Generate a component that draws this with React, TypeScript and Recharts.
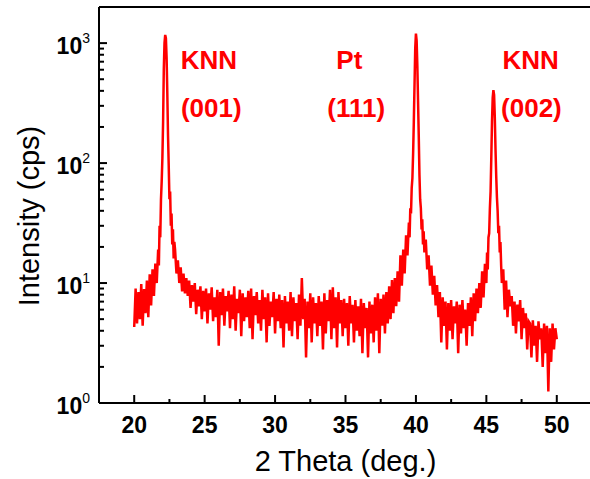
import React from 'react';
import {
    LineChart,
    Line,
    XAxis,
    YAxis,
    ReferenceLine,
    ReferenceDot,
    Label,
} from 'recharts';

// background scan on a 0.1 deg grid, counts
const STEP = 0.1;
const bgAStart = 20.0;
const bgA = [4.3, 9.0, 4.6, 8.4, 5.0, 9.8, 4.4, 8.9, 5.6, 10.5, 5.2, 11.8, 6.5, 13.0, 7.8, 14.5, 10.0];

const bgBStart = 22.9;
const bgB = [
    19, 12, 15.5, 10, 13.5, 8.5, 12, 8.2, 11, 7.8,
    10.5, 6.2, 9.6, 7.0, 10.0, 5.5, 8.8, 6.4, 9.4, 5.0,
    8.6, 5.8, 9.0, 4.6, 8.2, 6.0, 9.2, 4.8, 7.6, 5.2,
    8.8, 3.0, 8.4, 5.4, 9.0, 4.4, 7.8, 5.8, 8.6, 4.2,
    8.0, 5.0, 9.4, 4.0, 7.4, 5.6, 8.8, 3.6, 8.2, 4.8,
    7.6, 5.2, 8.6, 4.2, 9.0, 3.4, 7.8, 5.4, 8.4, 4.6,
    7.2, 4.0, 8.8, 5.0, 7.6, 3.2, 8.2, 4.4, 7.0, 5.2,
    8.4, 3.8, 7.4, 4.8, 8.0, 4.2, 7.2, 2.9, 7.8, 4.6,
    7.0, 4.0, 8.4, 3.6, 7.6, 4.8, 6.8, 3.4, 8.0, 4.4,
    11.0, 5.0, 7.4, 2.4, 7.0, 4.2, 8.2, 3.2, 7.6, 4.6,
    6.8, 3.6, 7.8, 4.4, 7.0, 2.8, 8.2, 3.8, 7.2, 4.8,
    8.8, 3.4, 9.2, 4.2, 7.6, 2.9, 8.4, 4.6, 7.2, 3.6,
    7.4, 4.2, 6.8, 3.0, 7.8, 4.6, 6.6, 3.2, 7.2, 4.0,
    6.4, 3.6, 7.4, 2.6, 6.8, 4.2, 6.2, 2.4, 7.0, 3.8,
    6.6, 3.2, 7.6, 4.0, 8.2, 2.6, 7.4, 4.4, 8.0, 3.8,
    8.4, 4.6, 9.4, 5.0, 10.6, 5.6, 11.0, 6.4, 12.5, 7.0,
    17.0, 9.5, 19.0, 12.0, 25.0, 17.0,
];

const bgCStart = 40.6;
const bgC = [
    18, 23, 13, 17, 9.5, 14, 8.0, 11.5, 6.5, 9.6,
    5.2, 8.4, 3.2, 7.6, 4.4, 7.0, 2.8, 6.8, 4.0, 7.2,
    3.4, 6.4, 4.6, 7.0, 2.6, 6.6, 3.8, 7.2, 4.2, 6.0,
    3.0, 6.8, 4.4, 7.6, 3.6, 8.2, 4.8, 9.0, 5.6, 10.0,
    6.2, 12.5, 7.6, 14.5,
];

const bgDStart = 46.1;
const bgD = [
    10, 13, 6.0, 10.5, 5.2, 8.8, 6.4, 7.8, 4.4, 7.0,
    3.8, 6.6, 4.8, 7.2, 3.4, 6.2, 4.2, 5.6, 2.8, 4.8,
    4.6, 2.4, 4.9, 3.0, 4.4, 2.2, 4.8, 3.4, 4.2, 2.0,
    4.6, 2.6, 4.4, 1.25, 4.2, 2.2, 4.6, 2.8, 4.2, 3.4,
];

// reflections, finer steps
const peak001: [number, number][] = [
    [21.7, 19], [21.75, 14], [21.8, 30], [21.85, 24], [21.9, 50], [21.95, 70],
    [22.0, 110], [22.05, 220], [22.1, 600], [22.15, 1000], [22.2, 1170],
    [22.25, 1100], [22.3, 750], [22.35, 380], [22.4, 170], [22.45, 95],
    [22.5, 50], [22.55, 58], [22.6, 30], [22.65, 38], [22.7, 21], [22.75, 28],
    [22.8, 16], [22.85, 22],
];

const peak111: [number, number][] = [
    [39.5, 32], [39.55, 24], [39.6, 42], [39.65, 38], [39.7, 62], [39.75, 75],
    [39.8, 120], [39.85, 220], [39.9, 450], [39.95, 900], [40.0, 1200],
    [40.05, 1050], [40.1, 650], [40.15, 330], [40.2, 170], [40.25, 80],
    [40.3, 50], [40.35, 42], [40.4, 28], [40.45, 34], [40.5, 21], [40.55, 27],
];

const peak002: [number, number][] = [
    [45.0, 10], [45.05, 18], [45.1, 13], [45.15, 24], [45.2, 26], [45.25, 42],
    [45.3, 58], [45.35, 110], [45.4, 220], [45.45, 350], [45.5, 405],
    [45.55, 370], [45.6, 240], [45.65, 130], [45.7, 78], [45.75, 52],
    [45.8, 40], [45.85, 26], [45.9, 30], [45.95, 18], [46.0, 22], [46.05, 14],
];

const xTicks = [20, 22.5, 25, 27.5, 30, 32.5, 35, 37.5, 40, 42.5, 45, 47.5, 50];
const yTicks = [
    1, 2, 3, 4, 5, 6, 7, 8, 9,
    10, 20, 30, 40, 50, 60, 70, 80, 90,
    100, 200, 300, 400, 500, 600, 700, 800, 900,
    1000,
];

const peakLabels = [
    { angle: 25.3, counts: 730, text: 'KNN' },
    { angle: 25.47, counts: 287, text: '(001)' },
    { angle: 35.27, counts: 730, text: 'Pt' },
    { angle: 35.76, counts: 287, text: '(111)' },
    { angle: 48.14, counts: 730, text: 'KNN' },
    { angle: 48.2, counts: 287, text: '(002)' },
];

const grid = (start: number, counts: number[]) =>
    counts.map((c, i) => ({ angle: +(start + i * STEP).toFixed(2), counts: c }));

const data = [
    ...grid(bgAStart, bgA),
    ...peak001.map(([angle, counts]) => ({ angle, counts })),
    ...grid(bgBStart, bgB),
    ...peak111.map(([angle, counts]) => ({ angle, counts })),
    ...grid(bgCStart, bgC),
    ...peak002.map(([angle, counts]) => ({ angle, counts })),
    ...grid(bgDStart, bgD),
].sort((a, b) => a.angle - b.angle);

const FONT = '"Liberation Sans", Arial, sans-serif';

const XTick = (props: any) => {
    const { x, y, payload } = props;
    const major = payload.value % 5 === 0;
    return (
        <g>
            <line x1={x} x2={x} y1={y} y2={y - (major ? 8 : 4)} stroke="#000" strokeWidth={2} />
            {major && (
                <text x={x} y={y + 30} textAnchor="middle" fontSize={23} fontWeight="bold" fill="#000" fontFamily={FONT}>
                    {payload.value}
                </text>
            )}
        </g>
    );
};

const YTick = (props: any) => {
    const { x, y, payload } = props;
    const exp = Math.log10(payload.value);
    const major = Math.abs(exp - Math.round(exp)) < 1e-6;
    return (
        <g>
            <line x1={x} x2={x + (major ? 8 : 5)} y1={y} y2={y} stroke="#000" strokeWidth={2} />
            {major && (
                <text x={x - 9} y={y + 11} textAnchor="end" fill="#000" fontFamily={FONT}>
                    <tspan fontSize={23} fontWeight="bold">10</tspan>
                    <tspan fontSize={14} dy={-11}>{Math.round(exp)}</tspan>
                </text>
            )}
        </g>
    );
};

export default function App() {
    return (
        <div style={{ position: 'fixed', top: 0, left: 0, width: 590, height: 479, overflow: 'hidden', background: '#fff' }}>
            <LineChart
                width={600}
                height={479}
                data={data}
                margin={{ top: 7, right: 8, left: 39, bottom: 16 }}
                style={{ fontFamily: FONT }}
            >
                <XAxis
                    dataKey="angle"
                    type="number"
                    domain={[17.5, 52.5]}
                    allowDataOverflow
                    ticks={xTicks}
                    interval={0}
                    tick={<XTick />}
                    tickLine={false}
                    tickSize={0}
                    tickMargin={0}
                    axisLine={{ stroke: '#000', strokeWidth: 2 }}
                    height={60}
                >
                    <Label
                        content={({ viewBox }: any) => (
                            <text
                                x={viewBox.x + viewBox.width / 2}
                                y={viewBox.y + 68}
                                textAnchor="middle"
                                fontSize={29}
                                fill="#000"
                                fontFamily={FONT}
                            >
                                2 Theta (deg.)
                            </text>
                        )}
                    />
                </XAxis>
                <YAxis
                    scale="log"
                    type="number"
                    domain={[1, 2000]}
                    allowDataOverflow
                    ticks={yTicks}
                    interval={0}
                    tick={<YTick />}
                    tickLine={false}
                    tickSize={0}
                    tickMargin={0}
                    axisLine={{ stroke: '#000', strokeWidth: 2 }}
                    width={60}
                >
                    <Label
                        content={({ viewBox }: any) => {
                            const cx = viewBox.x;
                            const cy = viewBox.y + viewBox.height / 2 + 11;
                            return (
                                <text
                                    x={cx}
                                    y={cy}
                                    transform={`rotate(-90 ${cx} ${cy})`}
                                    textAnchor="middle"
                                    fontSize={29}
                                    fill="#000"
                                    fontFamily={FONT}
                                >
                                    Intensity (cps)
                                </text>
                            );
                        }}
                    />
                </YAxis>
                <ReferenceLine y={2000} stroke="#000" strokeWidth={2} />
                <Line
                    type="linear"
                    dataKey="counts"
                    stroke="#ff0000"
                    strokeWidth={2.5}
                    dot={false}
                    isAnimationActive={false}
                />
                {peakLabels.map((p, i) => (
                    <ReferenceDot
                        key={i}
                        x={p.angle}
                        y={p.counts}
                        r={0}
                        fill="none"
                        stroke="none"
                        label={{
                            value: p.text,
                            position: 'center',
                            fill: '#ff0000',
                            fontSize: 26,
                            fontWeight: 'bold',
                            fontFamily: FONT,
                        }}
                    />
                ))}
            </LineChart>
        </div>
    );
}
